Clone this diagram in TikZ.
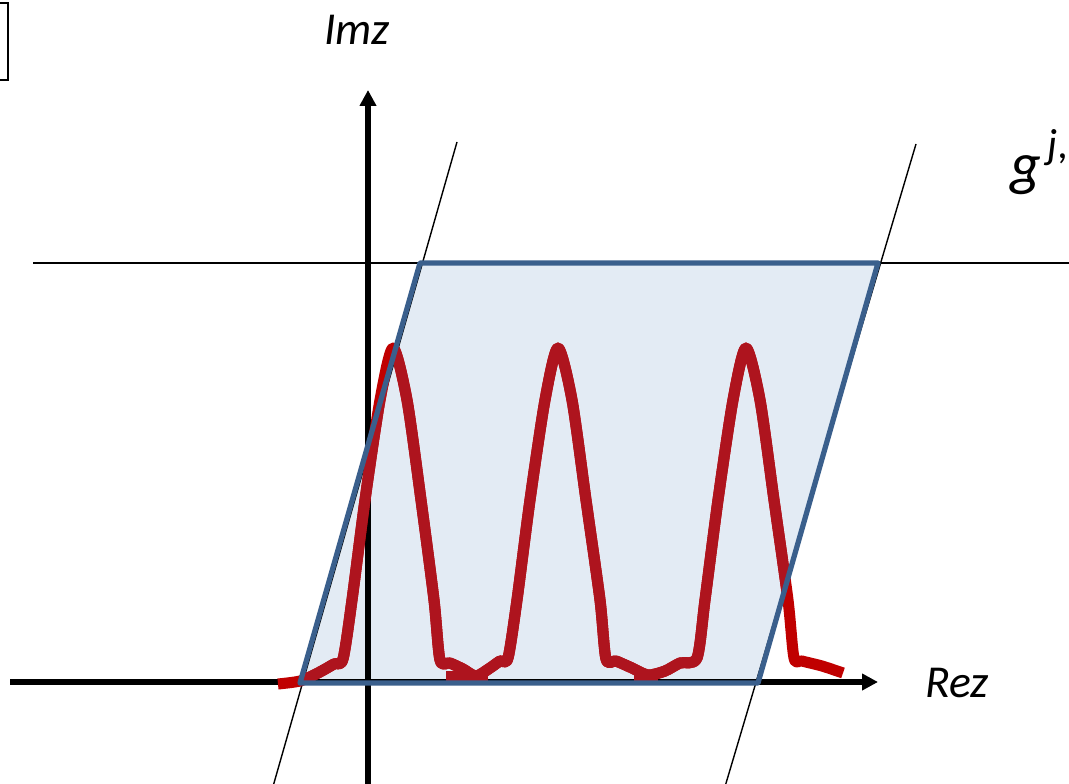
\documentclass[tikz,border=0pt]{standalone}
\usepackage{fontspec}
\setmainfont{Carlito}
\usetikzlibrary{arrows.meta}
\definecolor{cellfill}{RGB}{227,235,244}
\definecolor{celledge}{RGB}{58,95,140}
\definecolor{peakred}{RGB}{192,0,0}
\definecolor{peakdark}{RGB}{174,20,30}

\begin{document}
\begin{tikzpicture}[x=0.02cm,y=-0.02cm]
\clip (0,0) rectangle (1069,784);
\def\peaks{(278,684) (300,681) (318,673) (334,664)
  (343,659) (352,600) (365,500) (380,400) (393,348) (407,400) (421,500) (434,600) (440,660)
  (450,663) (463,669) (476,676) (490,668) (500,661)
  (508,658) (517,600) (530,500) (545,400) (558,348) (572,400) (586,500) (600,600) (606,659)
  (616,661) (632,668) (648,675) (665,671) (680,663)
  (697,658) (705,600) (718,500) (733,400) (746,348) (760,400) (774,500) (788,600) (794,658)
  (802,661) (822,666) (843,673)}
\tikzset{
  axis/.style={line width=2.9pt, -{Triangle[length=9pt,width=9pt]}},
  guide/.style={line width=0.8pt},
  curve/.style={line width=6.3pt, line join=round},
  lbl/.style={font=\fontsize{26}{30}\selectfont\itshape}
}

\coordinate (O) at (368,682);
\coordinate (Xs) at (10,682);
\coordinate (Xe) at (878,682);
\coordinate (Ys) at (368,790);
\coordinate (Ye) at (368,90);
\coordinate (A) at (300,683);
\coordinate (B) at (758,683);
\coordinate (C) at (878,263);
\coordinate (D) at (420,263);

% cell
\fill[cellfill] (A) -- (B) -- (C) -- (D) -- cycle;

% guide lines
\draw[guide] (33,263) -- (1075,263);
\draw[guide] (457,142) -- (272,790);
\draw[guide] (916,144) -- (724,790);

% axes
\draw[axis] (Xs) -- (Xe);
\draw[axis] (Ys) -- (Ye);

% peaks
\draw[curve, peakred] plot[smooth, tension=0.45] coordinates {\peaks};
\begin{scope}
\clip (A) -- (B) -- (C) -- (D) -- cycle;
\draw[curve, peakdark] plot[smooth, tension=0.45] coordinates {\peaks};
\end{scope}
\fill[peakdark] (446,671) rectangle (488,684);
\fill[peakdark] (634,671) rectangle (658,684);

\draw[line width=3pt, celledge, line join=round] (A) -- (B) -- (C) -- (D) -- cycle;

\draw[line width=1.2pt] (-20,3) rectangle (8,80);

\node[lbl] (imz) at (357,30) {Imz};
\node[lbl] (rez) at (957,683) {Rez};
\node[lbl, anchor=west, font=\fontsize{34}{38}\selectfont\itshape] (g) at (1004,162)
  {g\raisebox{0.42em}{\fontsize{24}{28}\selectfont\,j,k}};
\end{tikzpicture}
\end{document}
